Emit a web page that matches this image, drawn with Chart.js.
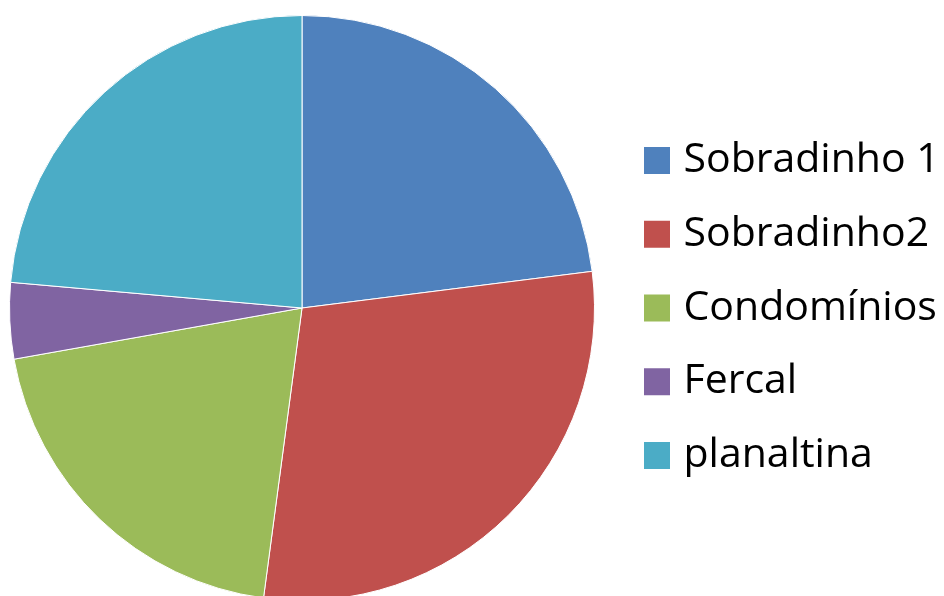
<!DOCTYPE html>
<html lang="pt">
<head>
  <meta charset="UTF-8" />
  <title>Distribuição por região</title>
  <script src="https://cdn.jsdelivr.net/npm/chart.js"></script>
  <style>
    html, body {
      margin: 0;
      padding: 0;
      background: #fff;
      overflow: hidden;
    }
    #wrap {
      position: relative;
      width: 944px;
      height: 601px;
    }
  </style>
</head>
<body>
  <div id="wrap"><canvas id="chart"></canvas></div>

  <script>
    const labels = ["Sobradinho 1", "Sobradinho2", "Condomínios", "Fercal", "planaltina"];
    const values = [23, 29.1, 20.1, 4.2, 23.6];
    const colors = ["#4F81BD", "#C0504D", "#9BBB59", "#8064A2", "#4BACC6"];

    const LEGEND_WIDTH = 340;
    const LEGEND_LEFT = 618.25;

    // fix legend width and left edge so the pie sits where it should
    const legendPlacer = {
      id: "legendPlacer",
      beforeInit(chart) {
        const legend = chart.legend;
        const origFit = legend.fit;
        legend.fit = function () {
          origFit.call(this);
          this.width = LEGEND_WIDTH;
        };
      },
      afterLayout(chart) {
        const legend = chart.legend;
        legend.left = LEGEND_LEFT;
        legend.right = LEGEND_LEFT + LEGEND_WIDTH;
      }
    };

    const baseLabels = Chart.overrides.doughnut.plugins.legend.labels.generateLabels;

    new Chart(document.getElementById("chart"), {
      type: "pie",
      data: {
        labels: labels,
        datasets: [{
          data: values,
          backgroundColor: colors,
          borderColor: "#ffffff",
          borderWidth: 1
        }]
      },
      options: {
        responsive: true,
        maintainAspectRatio: false,
        animation: false,
        layout: { padding: { top: 15 } },
        plugins: {
          tooltip: { enabled: false },
          legend: {
            position: "right",
            labels: {
              font: { family: "'Open Sans'", size: 41 },
              color: "#000",
              boxWidth: 12,
              boxHeight: 13,
              padding: 32.75,
              generateLabels(chart) {
                return baseLabels(chart).map(item => {
                  item.lineWidth = 14;
                  item.strokeStyle = item.fillStyle;
                  item.lineJoin = "miter";
                  return item;
                });
              }
            }
          }
        }
      },
      plugins: [legendPlacer]
    });
  </script>
</body>
</html>
